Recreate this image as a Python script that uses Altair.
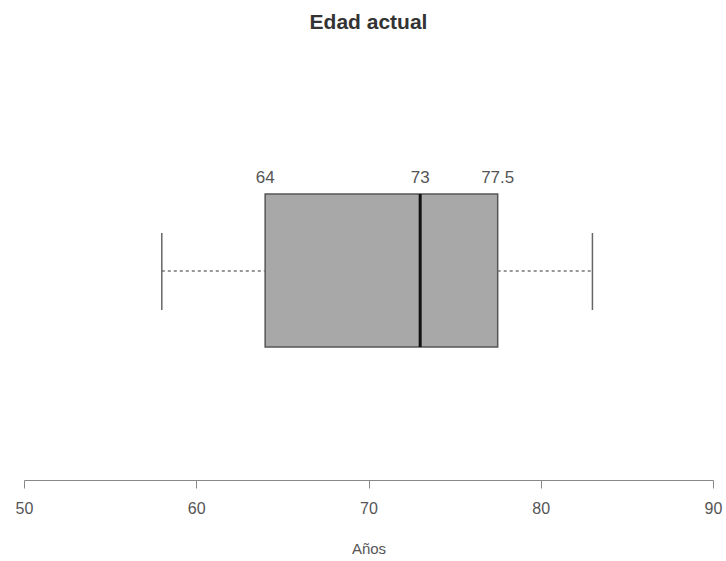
import altair as alt
import pandas as pd

# Data
stat_names = ["min", "q1", "median", "q3", "max"]
stat_values = [58, 64, 73, 77.5, 83]
label_stats = ["q1", "median", "q3"]
label_texts = ["64", "73", "77.5"]
tick_values = [50, 60, 70, 80, 90]
x_domain = [50, 90]

s = dict(zip(stat_names, stat_values))
box_df = pd.DataFrame({"q1": [s["q1"]], "q3": [s["q3"]], "median": [s["median"]]})
whisk_df = pd.DataFrame({"a": [s["min"], s["q3"]], "b": [s["q1"], s["max"]]})
caps_df = pd.DataFrame({"v": [s["min"], s["max"]]})
lab_df = pd.DataFrame({"v": [s[k] for k in label_stats], "t": label_texts})

xs = alt.Scale(domain=x_domain, nice=False, zero=False)
xaxis = alt.Axis(values=tick_values, title="Años", grid=False,
                 domainColor="#888888", tickColor="#888888", tickSize=8,
                 labelFont="Liberation Sans", labelFontSize=16, labelColor="#555555",
                 labelPadding=12, titleFont="Liberation Sans", titleFontSize=15,
                 titleFontWeight="normal", titleColor="#555555", titlePadding=25,
                 labelFlush=False)

box = alt.Chart(box_df).mark_rect(fill="#a8a8a8", stroke="#555555", strokeWidth=1.5).encode(
    x=alt.X("q1:Q", scale=xs, axis=xaxis),
    x2="q3:Q",
    y=alt.value(133),
    y2=alt.value(286),
)

median = alt.Chart(box_df).mark_rule(color="#111111", strokeWidth=3).encode(
    x=alt.X("median:Q", scale=xs),
    y=alt.value(133),
    y2=alt.value(286),
)

whiskers = alt.Chart(whisk_df).mark_rule(color="#777777", strokeWidth=1.3, strokeDash=[3, 3]).encode(
    x=alt.X("a:Q", scale=xs),
    x2="b:Q",
    y=alt.value(210),
)

caps = alt.Chart(caps_df).mark_rule(color="#666666", strokeWidth=1.5).encode(
    x=alt.X("v:Q", scale=xs),
    y=alt.value(172),
    y2=alt.value(249),
)

labels = alt.Chart(lab_df).mark_text(font="Liberation Sans", fontSize=17, color="#555555",
                                     baseline="alphabetic", align="center").encode(
    x=alt.X("v:Q", scale=xs),
    y=alt.value(122),
    text="t:N",
)

chart = alt.layer(box, whiskers, caps, median, labels).properties(
    width=689,
    height=419,
    title=alt.TitleParams("Edad actual", font="Liberation Sans", fontSize=21,
                          fontWeight="bold", color="#333333", anchor="middle",
                          baseline="alphabetic", offset=11),
    autosize=alt.AutoSizeParams(type="none"),
    padding={"left": 24, "top": 61, "right": 13, "bottom": 81},
).configure(background="white").configure_view(strokeWidth=0, stroke="transparent")

chart.save("out.html", embed_options={"renderer": "svg", "actions": False})
